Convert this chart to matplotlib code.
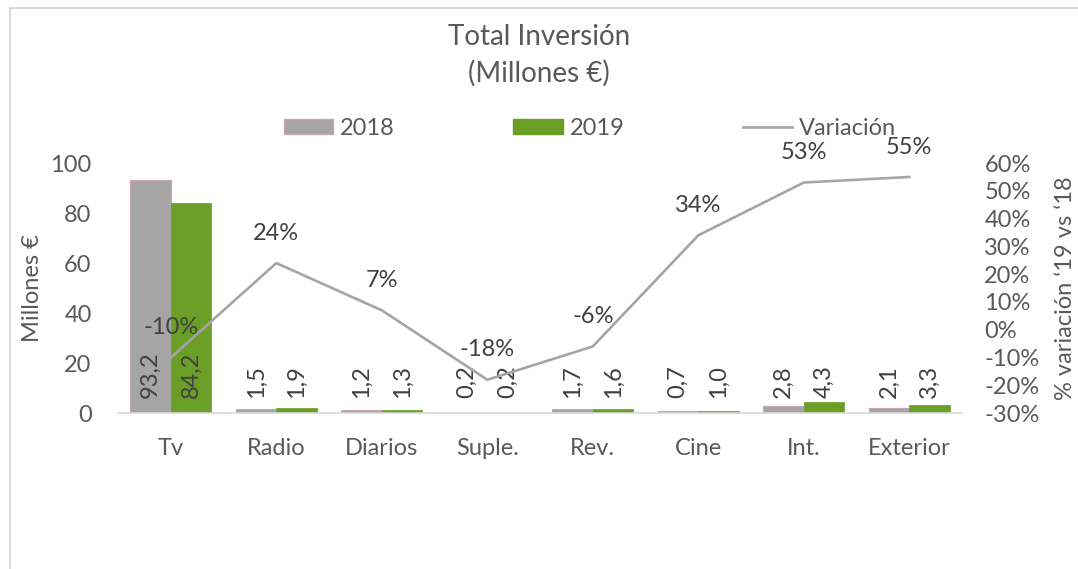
import matplotlib.pyplot as plt
import numpy as np
from matplotlib.patches import Rectangle, Patch
from matplotlib.lines import Line2D

plt.rcParams['font.family'] = ['Lato', 'DejaVu Sans']

categories = ["Tv", "Radio", "Diarios", "Suple.", "Rev.", "Cine", "Int.", "Exterior"]
inv_2018 = [93.2, 1.5, 1.2, 0.2, 1.7, 0.7, 2.8, 2.1]
inv_2019 = [84.2, 1.9, 1.3, 0.2, 1.6, 1.0, 4.3, 3.3]
variacion = [-10, 24, 7, -18, -6, 34, 53, 55]

gray = "#a5a5a5"
green = "#6a9e26"
pink_edge = "#c9a3b6"
text_col = "#595959"
fs = 17

fig = plt.figure(figsize=(10.78, 5.69), dpi=100)
ax1 = fig.add_axes([0.1095, 0.274, 0.783, 0.4394])

x = np.arange(len(categories))
w = 0.385
ax1.bar(x - w / 2, inv_2018, w, color=gray, edgecolor=pink_edge, linewidth=0.8)
ax1.bar(x + w / 2, inv_2019, w, color=green, edgecolor=green, linewidth=0.5)

for xs, vals in ((x - w / 2, inv_2018), (x + w / 2, inv_2019)):
    for xi, v in zip(xs, vals):
        ax1.annotate(f"{v:.1f}".replace(".", ","), (xi, 0), xytext=(0, 11),
                     textcoords="offset points", rotation=90, ha="center",
                     va="bottom", fontsize=fs, color="#404040")

ax1.set_xlim(-0.5, len(categories) - 0.5)
ax1.set_ylim(0, 100)
ax1.set_yticks([0, 20, 40, 60, 80, 100])
ax1.set_xticks(x)
ax1.set_xticklabels(categories)
ax1.tick_params(axis="both", length=0, labelsize=fs, labelcolor=text_col)
ax1.tick_params(axis="x", pad=18)
ax1.tick_params(axis="y", pad=19)
for s in ("top", "left", "right"):
    ax1.spines[s].set_visible(False)
ax1.spines["bottom"].set_color("#d9d9d9")
ax1.spines["bottom"].set_linewidth(1.2)
ax1.set_ylabel("Millones €", fontsize=fs, color=text_col, va="center")
ax1.yaxis.set_label_coords(-0.101, 0.5)

ax2 = ax1.twinx()
ax2.plot(x, variacion, color=gray, linewidth=1.9)
for xi, v in zip(x, variacion):
    ax2.annotate(f"{v}%", (xi, v), xytext=(0, 14), textcoords="offset points",
                 ha="center", va="bottom", fontsize=fs, color="#404040")
ax2.set_ylim(-30, 60)
ax2.set_yticks(range(-30, 61, 10))
ax2.set_yticklabels([f"{t}%" for t in range(-30, 61, 10)])
ax2.tick_params(axis="y", length=0, labelsize=fs, labelcolor=text_col, pad=16)
for s in ("top", "left", "right", "bottom"):
    ax2.spines[s].set_visible(False)
ax2.set_ylabel("% variación \u201819 vs \u201818", fontsize=fs, color=text_col,
               rotation=90, va="center")
ax2.yaxis.set_label_coords(1.122, 0.5)

fig.text(0.5, 0.935, "Total Inversión", ha="center", va="center", fontsize=20, color=text_col)
fig.text(0.5, 0.872, "(Millones €)", ha="center", va="center", fontsize=20, color=text_col)

handles = [Patch(facecolor=gray, edgecolor=pink_edge), Patch(facecolor=green, edgecolor=green),
           Line2D([0], [0], color=gray, linewidth=1.9)]
fig.legend(handles, ["2018", "2019", "Variación"], loc="center left",
           bbox_to_anchor=(0.263, 0.775), ncol=3, frameon=False, fontsize=fs,
           labelcolor=text_col, handlelength=2.1, handleheight=0.6,
           handletextpad=0.3, columnspacing=5.0, borderpad=0, borderaxespad=0)

fig.add_artist(Rectangle((0.0093, -0.1), 1.2, 1.086, transform=fig.transFigure,
                         fill=False, edgecolor="#d0d0d0", linewidth=1.2))

fig.savefig("out.png", dpi=100)
